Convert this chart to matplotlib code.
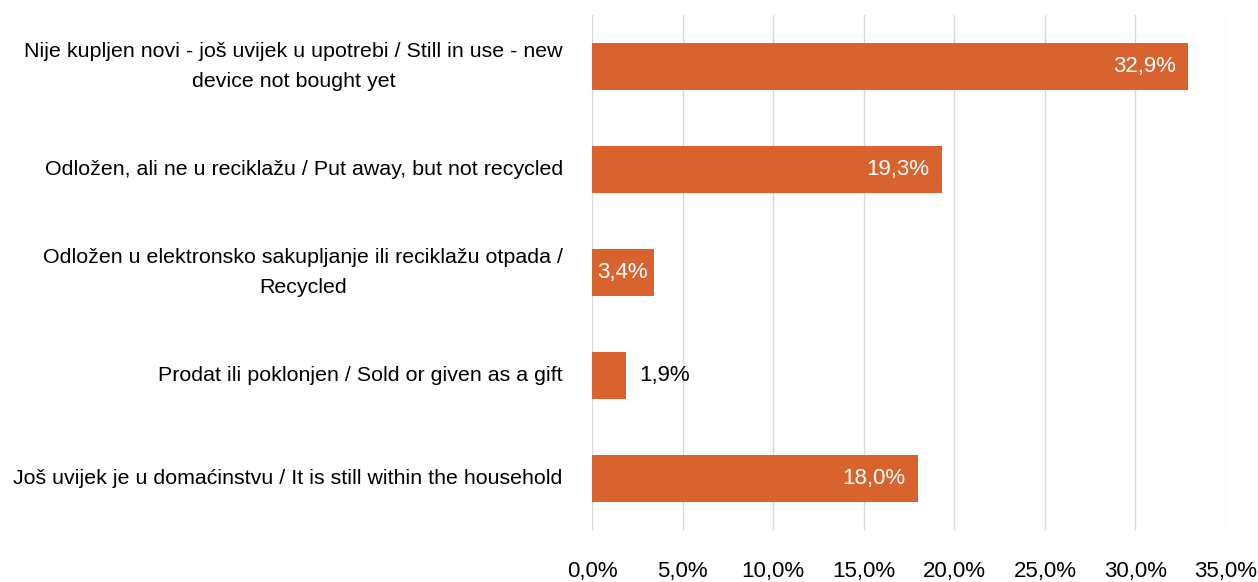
import matplotlib.pyplot as plt

plt.rcParams['font.family'] = ['Liberation Sans', 'DejaVu Sans']

kategorije = [
    'Nije kupljen novi - još uvijek u upotrebi / Still in use - new\ndevice not bought yet',
    'Odložen, ali ne u reciklažu / Put away, but not recycled',
    'Odložen u elektronsko sakupljanje ili reciklažu otpada /\nRecycled',
    'Prodat ili poklonjen / Sold or given as a gift',
    'Još uvijek je u domaćinstvu / It is still within the household',
]
vrijednosti = [32.9, 19.3, 3.4, 1.9, 18.0]
unutra = [True, True, True, False, True]
oznake_x = [0, 5, 10, 15, 20, 25, 30, 35]

boja = '#D9632E'

fig = plt.figure(figsize=(12.58, 5.82), dpi=100)
ax = fig.add_axes([0.4706, 0.0893, 0.504, 0.885])

y = list(range(len(kategorije)))
ax.barh(y, vrijednosti, height=0.46, color=boja, zorder=3)

for i, (v, u) in enumerate(zip(vrijednosti, unutra)):
    tekst = f'{v:.1f}%'.replace('.', ',')
    if u and v < 5:
        # uska traka - oznaka u sredini
        ax.text(v / 2, i, tekst, ha='center', va='center', color='white',
                fontsize=16, zorder=4)
    elif u:
        ax.annotate(tekst, (v, i), xytext=(-9, 0), textcoords='offset points',
                    ha='right', va='center', color='white', fontsize=16, zorder=4)
    else:
        ax.annotate(tekst, (v, i), xytext=(9, 0), textcoords='offset points',
                    ha='left', va='center', color='black', fontsize=16, zorder=4)

ax.set_xlim(0, 35)
ax.set_ylim(len(kategorije) - 0.5, -0.5)
ax.set_yticks(y)
ax.set_yticklabels(kategorije, fontsize=15.4, ha='right', va='center',
                   multialignment='center', linespacing=1.75)
ax.set_xticks(oznake_x)
ax.set_xticklabels([f'{t},0%' for t in oznake_x], fontsize=16)

ax.grid(axis='x', color='#D9D9D9', linewidth=1, zorder=0)
ax.tick_params(axis='both', length=0)
ax.tick_params(axis='x', pad=22)
ax.tick_params(axis='y', pad=21)
for s in ax.spines.values():
    s.set_visible(False)

fig.savefig('out.png', dpi=100)
